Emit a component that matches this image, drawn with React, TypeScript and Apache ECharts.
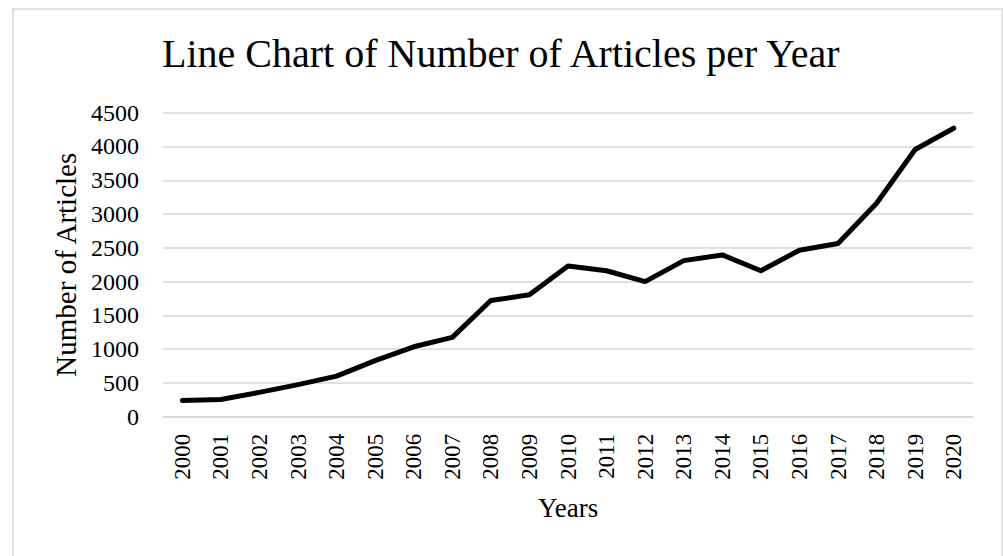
import React, { useEffect, useRef } from "react";
import * as echarts from "echarts";

const years = ["2000","2001","2002","2003","2004","2005","2006","2007","2008","2009","2010","2011","2012","2013","2014","2015","2016","2017","2018","2019","2020"];
const articles = [240, 255, 360, 475, 600, 830, 1035, 1175, 1720, 1805, 2230, 2160, 2000, 2310, 2395, 2160, 2465, 2565, 3160, 3955, 4270];
const yTicks = { min: 0, max: 4500, interval: 500 };

const FONT = "'Liberation Serif', 'Times New Roman', serif";

export default function App() {
  const ref = useRef<HTMLDivElement>(null);
  useEffect(() => {
    if (!ref.current) return;
    const chart = echarts.init(ref.current, null, { renderer: "svg" });
    chart.setOption({
      animation: false,
      backgroundColor: "#ffffff",
      title: {
        text: "Line Chart of Number of Articles per Year",
        left: 162,
        top: 33,
        padding: 0,
        textStyle: { fontFamily: FONT, fontSize: 40, fontWeight: "normal", color: "#000" },
      },
      graphic: [
        {
          type: "rect",
          shape: { x: 13, y: 9, width: 989, height: 560 },
          style: { fill: "none", stroke: "#d9d9d9", lineWidth: 1.5 },
          silent: true,
        },
      ],
      grid: { left: 163, right: 30, top: 112.7, bottom: 139.3, containLabel: false },
      xAxis: {
        type: "category",
        data: years,
        boundaryGap: true,
        name: "Years",
        nameLocation: "middle",
        nameGap: 78,
        nameTextStyle: { fontFamily: FONT, fontSize: 27, color: "#000" },
        axisLine: { show: true, lineStyle: { color: "#d9d9d9", width: 1.5 } },
        axisTick: { show: false },
        axisLabel: { rotate: 90, margin: 17, fontFamily: FONT, fontSize: 23, color: "#000", interval: 0 },
      },
      yAxis: {
        type: "value",
        min: yTicks.min,
        max: yTicks.max,
        interval: yTicks.interval,
        name: "Number of Articles",
        nameLocation: "middle",
        nameRotate: 90,
        nameGap: 82,
        nameTextStyle: { fontFamily: FONT, fontSize: 29, color: "#000" },
        axisLine: { show: false },
        axisTick: { show: false },
        axisLabel: {
          margin: 24,
          fontFamily: FONT,
          fontSize: 24,
          color: "#000",
          formatter: (v: number) => String(v),
        },
        splitLine: { show: true, lineStyle: { color: "#d9d9d9", width: 1.5 } },
      },
      series: [
        {
          type: "line",
          data: articles,
          showSymbol: false,
          symbol: "none",
          lineStyle: { color: "#000", width: 5, cap: "round", join: "round" },
        },
      ],
    });
    return () => chart.dispose();
  }, []);
  return (
    <div
      ref={ref}
      style={{ position: "fixed", left: 0, top: 0, width: 1003, height: 556 }}
    />
  );
}
